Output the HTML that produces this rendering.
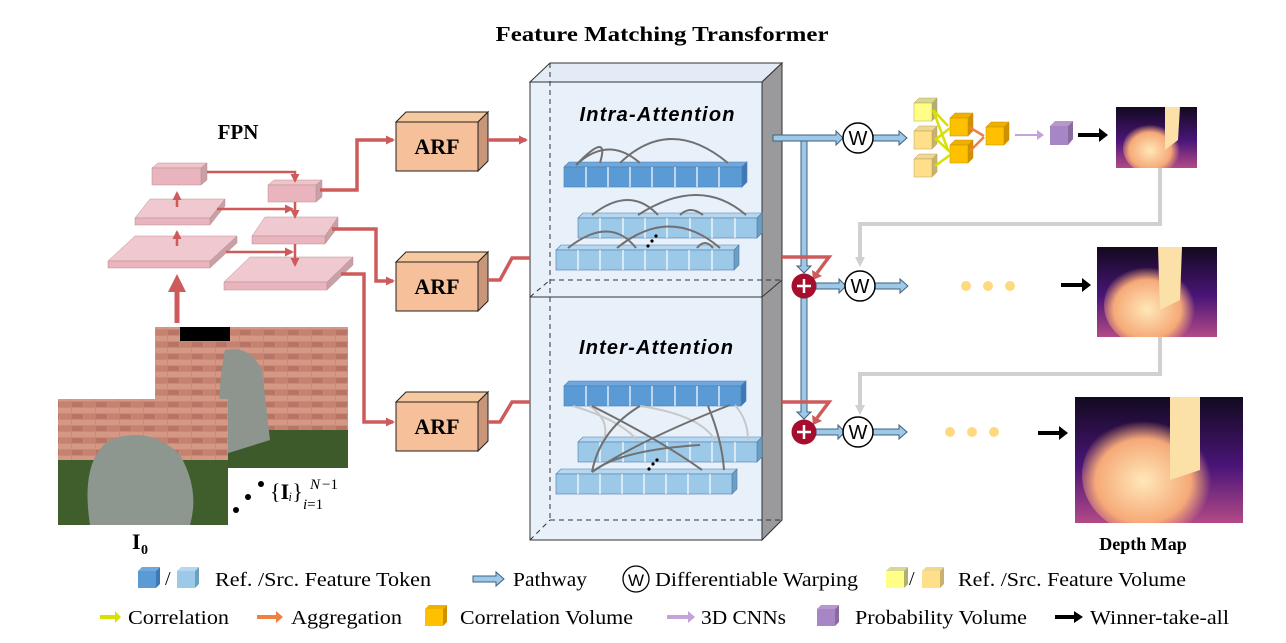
<!DOCTYPE html>
<html><head><meta charset="utf-8"><style>
html,body{margin:0;padding:0;background:#fff;}
svg{display:block;font-family:"Liberation Serif",serif;}
</style></head><body>
<svg width="1286" height="643" viewBox="0 0 1286 643" xmlns="http://www.w3.org/2000/svg">
<defs>
<marker id="ar" markerWidth="9" markerHeight="9" refX="7" refY="4.5" orient="auto" markerUnits="userSpaceOnUse"><path d="M0,0 L9,4.5 L0,9z" fill="#cd5b5b"/></marker>
<marker id="ag" markerWidth="10" markerHeight="10" refX="5" refY="5" orient="auto" markerUnits="userSpaceOnUse"><path d="M0,0 L10,5 L0,10z" fill="#d0d0d0"/></marker>
<linearGradient id="dm" x1="0" y1="0" x2="0" y2="1"><stop offset="0" stop-color="#12091f"/><stop offset="0.55" stop-color="#4a1578"/><stop offset="1" stop-color="#b24a86"/></linearGradient>
<radialGradient id="dmf" cx="0.45" cy="0.55" r="0.5"><stop offset="0" stop-color="#ffe8b8"/><stop offset="0.7" stop-color="#f6a978"/><stop offset="1" stop-color="#f6a978" stop-opacity="0"/></radialGradient>
<pattern id="brick" width="24" height="12" patternUnits="userSpaceOnUse"><rect width="24" height="12" fill="#c98b78"/><rect x="0" y="0" width="23" height="5" fill="#d49885"/><rect x="-12" y="6" width="23" height="5" fill="#b87565"/><rect x="12" y="6" width="23" height="5" fill="#c58270"/></pattern>
<clipPath id="c1"><rect x="1116" y="107" width="81" height="61"/></clipPath>
<clipPath id="c2"><rect x="1097" y="247" width="120" height="90"/></clipPath>
<clipPath id="c3"><rect x="1075" y="397" width="168" height="126"/></clipPath>
</defs>

<text x="662" y="41" text-anchor="middle" font-weight="bold" font-size="21" textLength="333" lengthAdjust="spacingAndGlyphs">Feature Matching Transformer</text>

<rect x="530" y="82" width="232" height="458" fill="#e8f0fa"/>
<polygon points="530,82 550,63 782,63 762,82" fill="#e2ebf6" stroke="#333" stroke-width="1"/>
<polygon points="762,82 782,63 782,520 762,540" fill="#9a9a9c" stroke="#333" stroke-width="1"/>
<rect x="530" y="82" width="232" height="458" fill="none" stroke="#333" stroke-width="1"/>
<line x1="530" y1="297" x2="762" y2="297" stroke="#333"/>
<line x1="762" y1="297" x2="782" y2="280" stroke="#333"/>
<g stroke="#333" stroke-dasharray="5,4" fill="none">
<line x1="550" y1="63" x2="550" y2="520"/>
<line x1="550" y1="280" x2="782" y2="280"/>
<line x1="530" y1="297" x2="550" y2="280"/>
<line x1="550" y1="520" x2="782" y2="520"/>
<line x1="530" y1="540" x2="550" y2="520"/>
</g>
<text x="657" y="121" text-anchor="middle" font-family="Liberation Sans,sans-serif" font-style="italic" font-weight="bold" font-size="20" textLength="155">Intra-Attention</text>
<text x="656" y="354" text-anchor="middle" font-family="Liberation Sans,sans-serif" font-style="italic" font-weight="bold" font-size="20" textLength="154">Inter-Attention</text>

<g stroke="#4a7cb0" stroke-width="0.6">
<g fill="#5b9bd5">
<polygon points="564,167 569,162 747,162 742,167" fill="#6fa8dc"/>
<polygon points="742,167 747,162 747,182 742,187" fill="#3f79b5"/>
<rect x="564" y="167" width="178" height="20"/>
</g>
<g fill="#9dc9e8">
<polygon points="578,218 583,213 762,213 757,218" fill="#b5d8f0"/>
<polygon points="757,218 762,213 762,233 757,238" fill="#6d9fc3"/>
<rect x="578" y="218" width="179" height="20"/>
<polygon points="556,250 561,245 739,245 734,250" fill="#b5d8f0"/>
<polygon points="734,250 739,245 739,265 734,270" fill="#6d9fc3"/>
<rect x="556" y="250" width="178" height="20"/>
</g>
<g fill="#5b9bd5">
<polygon points="564,386 569,381 746,381 741,386" fill="#6fa8dc"/>
<polygon points="741,386 746,381 746,401 741,406" fill="#3f79b5"/>
<rect x="564" y="386" width="177" height="20"/>
</g>
<g fill="#9dc9e8">
<polygon points="578,442 583,437 762,437 757,442" fill="#b5d8f0"/>
<polygon points="757,442 762,437 762,457 757,462" fill="#6d9fc3"/>
<rect x="578" y="442" width="179" height="20"/>
<polygon points="556,474 561,469 737,469 732,474" fill="#b5d8f0"/>
<polygon points="732,474 737,469 737,489 732,494" fill="#6d9fc3"/>
<rect x="556" y="474" width="176" height="20"/>
</g>
</g>
<g stroke="#fff" stroke-width="1.5" opacity="0.8">
<line x1="586" y1="167" x2="586" y2="187"/><line x1="608" y1="167" x2="608" y2="187"/><line x1="630" y1="167" x2="630" y2="187"/><line x1="652" y1="167" x2="652" y2="187"/><line x1="675" y1="167" x2="675" y2="187"/><line x1="697" y1="167" x2="697" y2="187"/><line x1="719" y1="167" x2="719" y2="187"/>
<line x1="600" y1="218" x2="600" y2="238"/><line x1="623" y1="218" x2="623" y2="238"/><line x1="645" y1="218" x2="645" y2="238"/><line x1="667" y1="218" x2="667" y2="238"/><line x1="690" y1="218" x2="690" y2="238"/><line x1="712" y1="218" x2="712" y2="238"/><line x1="735" y1="218" x2="735" y2="238"/>
<line x1="578" y1="250" x2="578" y2="270"/><line x1="600" y1="250" x2="600" y2="270"/><line x1="623" y1="250" x2="623" y2="270"/><line x1="645" y1="250" x2="645" y2="270"/><line x1="667" y1="250" x2="667" y2="270"/><line x1="689" y1="250" x2="689" y2="270"/><line x1="712" y1="250" x2="712" y2="270"/>
<line x1="586" y1="386" x2="586" y2="406"/><line x1="608" y1="386" x2="608" y2="406"/><line x1="630" y1="386" x2="630" y2="406"/><line x1="652" y1="386" x2="652" y2="406"/><line x1="675" y1="386" x2="675" y2="406"/><line x1="697" y1="386" x2="697" y2="406"/><line x1="719" y1="386" x2="719" y2="406"/>
<line x1="600" y1="442" x2="600" y2="462"/><line x1="623" y1="442" x2="623" y2="462"/><line x1="645" y1="442" x2="645" y2="462"/><line x1="667" y1="442" x2="667" y2="462"/><line x1="690" y1="442" x2="690" y2="462"/><line x1="712" y1="442" x2="712" y2="462"/><line x1="735" y1="442" x2="735" y2="462"/>
<line x1="578" y1="474" x2="578" y2="494"/><line x1="600" y1="474" x2="600" y2="494"/><line x1="622" y1="474" x2="622" y2="494"/><line x1="644" y1="474" x2="644" y2="494"/><line x1="666" y1="474" x2="666" y2="494"/><line x1="688" y1="474" x2="688" y2="494"/><line x1="710" y1="474" x2="710" y2="494"/>
</g>
<g fill="none" stroke="#707070" stroke-width="2">
<path d="M576,165 Q610,130 600,163"/>
<path d="M576,165 Q608,135 640,163"/>
<path d="M620,163 Q670,115 728,163"/>
<path d="M592,215 Q630,185 658,215"/>
<path d="M638,215 Q700,175 746,215"/>
<path d="M680,215 Q690,205 703,215"/>
<path d="M568,248 Q610,215 636,248"/>
<path d="M617,248 Q670,205 720,248"/>
<path d="M697,248 Q705,238 713,248"/>
</g>
<g fill="none" stroke="#c8c8c8" stroke-width="2">
<path d="M573,406 Q620,420 637,440"/>
<path d="M640,406 Q700,415 715,440"/>
<path d="M735,405 Q748,420 748,440"/>
<path d="M590,406 Q610,420 604,440"/>
</g>
<g fill="none" stroke="#707070" stroke-width="2">
<path d="M640,406 Q600,430 592,472"/>
<path d="M592,472 Q640,440 730,405"/>
<path d="M592,472 Q620,450 700,445"/>
<path d="M592,406 Q660,440 702,470"/>
<path d="M708,406 Q722,440 724,470"/>
</g>
<g fill="#000"><circle cx="648" cy="246" r="1.6"/><circle cx="652" cy="241" r="1.6"/><circle cx="656" cy="236" r="1.6"/>
<circle cx="649" cy="469" r="1.6"/><circle cx="653" cy="464" r="1.6"/><circle cx="657" cy="460" r="1.6"/></g>

<g fill="#9dc9e8" stroke="#40607c" stroke-width="1">
<path d="M773,135 L836,135 L836,131 L843,138 L836,145 L836,141 L773,141z"/>
<path d="M801,141 L807,141 L807,266 L811,266 L804,273 L797,266 L801,266z"/>
<path d="M801,298 L807,298 L807,412 L811,412 L804,419 L797,412 L801,412z"/>
<path d="M873,135 L899,135 L899,131 L907,138 L899,145 L899,141 L873,141z"/>
<path d="M816,283 L839,283 L839,279 L846,286 L839,293 L839,289 L816,289z"/>
<path d="M874,283 L900,283 L900,279 L908,286 L900,293 L900,289 L874,289z"/>
<path d="M816,429 L838,429 L838,425 L845,432 L838,439 L838,435 L816,435z"/>
<path d="M873,429 L899,429 L899,425 L907,432 L899,439 L899,435 L873,435z"/>
</g>
<g fill="none" stroke="#cd5b5b" stroke-width="3.5">
<polyline points="782,257 829,257 817,273"/>
<polyline points="782,402 829,402 817,418"/>
</g>
<path d="M812,270 L822,276 L813,280z" fill="#cd5b5b"/>
<path d="M812,415 L822,421 L813,425z" fill="#cd5b5b"/>
<circle cx="804" cy="286" r="12.5" fill="#a50f2d"/>
<circle cx="804" cy="432" r="12.5" fill="#a50f2d"/>
<g stroke="#fff" stroke-width="2.5"><line x1="797" y1="286" x2="811" y2="286"/><line x1="804" y1="279" x2="804" y2="293"/><line x1="797" y1="432" x2="811" y2="432"/><line x1="804" y1="425" x2="804" y2="439"/></g>
<g fill="#fff" stroke="#000" stroke-width="1.5">
<circle cx="858" cy="138" r="15"/><circle cx="860" cy="286" r="15"/><circle cx="858" cy="432" r="15"/>
</g>
<g font-family="Liberation Sans,sans-serif" font-size="20" text-anchor="middle">
<text x="858" y="145">W</text><text x="860" y="293">W</text><text x="858" y="439">W</text>
</g>

<g stroke-width="0.5" stroke="#b8a060">
<polygon points="914,103 919,98 937,98 932,103" fill="#d8d890"/><polygon points="932,103 937,98 937,116 932,121" fill="#b0b070"/><rect x="914" y="103" width="18" height="18" fill="#ffff88"/>
<polygon points="914,131 919,126 937,126 932,131" fill="#f0d890"/><polygon points="932,131 937,126 937,144 932,149" fill="#c8b070"/><rect x="914" y="131" width="18" height="18" fill="#ffdf8a"/>
<polygon points="914,159 919,154 937,154 932,159" fill="#f0d890"/><polygon points="932,159 937,154 937,172 932,177" fill="#c8b070"/><rect x="914" y="159" width="18" height="18" fill="#ffdf8a"/>
<g stroke="#c09000">
<polygon points="950,118 955,113 973,113 968,118" fill="#f0b000"/><polygon points="968,118 973,113 973,131 968,136" fill="#d09000"/><rect x="950" y="118" width="18" height="18" fill="#ffc000"/>
<polygon points="950,145 955,140 973,140 968,145" fill="#f0b000"/><polygon points="968,145 973,140 973,158 968,163" fill="#d09000"/><rect x="950" y="145" width="18" height="18" fill="#ffc000"/>
<polygon points="986,127 991,122 1009,122 1004,127" fill="#f0b000"/><polygon points="1004,127 1009,122 1009,140 1004,145" fill="#d09000"/><rect x="986" y="127" width="18" height="18" fill="#ffc000"/>
</g>
</g>
<g stroke="#d8e000" stroke-width="2.5" fill="none">
<line x1="933" y1="110" x2="948" y2="126"/><line x1="933" y1="110" x2="948" y2="150"/><line x1="950" y1="128" x2="935" y2="140"/><line x1="950" y1="152" x2="935" y2="138"/><line x1="950" y1="155" x2="935" y2="166"/>
</g>
<g stroke="#f08040" stroke-width="2.5"><line x1="969" y1="127" x2="984" y2="136"/><line x1="969" y1="152" x2="984" y2="137"/></g>
<path d="M1015,134 L1037,134 L1037,130 L1044,135 L1037,140 L1037,136 L1015,136z" fill="#c3a3d8"/>
<polygon points="1050,126 1055,121 1073,121 1068,126" fill="#b898cc"/><polygon points="1068,126 1073,121 1073,139 1068,145" fill="#8a6aa0"/><rect x="1050" y="126" width="18" height="19" fill="#a686c4"/>
<g fill="#000">
<path d="M1078,133 L1099,133 L1099,128 L1108,135 L1099,142 L1099,137 L1078,137z"/>
<path d="M1061,283 L1082,283 L1082,278 L1091,285 L1082,292 L1082,287 L1061,287z"/>
<path d="M1038,431 L1059,431 L1059,426 L1068,433 L1059,440 L1059,435 L1038,435z"/>
</g>
<g fill="#ffd980"><circle cx="966" cy="286" r="5"/><circle cx="988" cy="286" r="5"/><circle cx="1010" cy="286" r="5"/>
<circle cx="950" cy="432" r="5"/><circle cx="972" cy="432" r="5"/><circle cx="994" cy="432" r="5"/></g>

<g clip-path="url(#c1)"><rect x="1116" y="107" width="81" height="61" fill="url(#dm)"/>
<ellipse cx="1153" cy="148" rx="30" ry="26" fill="url(#dmf)"/><path d="M1165,107 L1180,107 L1178,140 L1165,150z" fill="#fbe0a8"/></g>
<g clip-path="url(#c2)"><rect x="1097" y="247" width="120" height="90" fill="url(#dm)"/>
<ellipse cx="1152" cy="305" rx="48" ry="42" fill="url(#dmf)"/><path d="M1158,247 L1182,247 L1180,300 L1160,310z" fill="#fbe0a8"/></g>
<g clip-path="url(#c3)"><rect x="1075" y="397" width="168" height="126" fill="url(#dm)"/>
<ellipse cx="1150" cy="475" rx="68" ry="60" fill="url(#dmf)"/><path d="M1170,397 L1200,397 L1200,470 L1170,480z" fill="#fbe0a8"/></g>
<g fill="none" stroke="#d0d0d0" stroke-width="4">
<polyline points="1160,168 1160,224 860,224 860,262" marker-end="url(#ag)"/>
<polyline points="1160,337 1160,374 860,374 860,410" marker-end="url(#ag)"/>
</g>
<text x="1143" y="550" text-anchor="middle" font-weight="bold" font-size="18">Depth Map</text>

<g stroke="#222" stroke-width="1">
<polygon points="396,122 406,112 488,112 478,122" fill="#f6c9a0"/><polygon points="478,122 488,112 488,161 478,171" fill="#c8977a"/><rect x="396" y="122" width="82" height="49" fill="#f6c09a"/>
<polygon points="396,262 406,252 488,252 478,262" fill="#f6c9a0"/><polygon points="478,262 488,252 488,301 478,311" fill="#c8977a"/><rect x="396" y="262" width="82" height="49" fill="#f6c09a"/>
<polygon points="396,402 406,392 488,392 478,402" fill="#f6c9a0"/><polygon points="478,402 488,392 488,441 478,451" fill="#c8977a"/><rect x="396" y="402" width="82" height="49" fill="#f6c09a"/>
</g>
<g font-weight="bold" font-size="22" text-anchor="middle"><text x="437" y="154">ARF</text><text x="437" y="294">ARF</text><text x="437" y="434">ARF</text></g>

<text x="238" y="139" text-anchor="middle" font-weight="bold" font-size="21">FPN</text>
<g stroke="#b89090" stroke-width="0.5">
<polygon points="152,168 158,163 207,163 201,168" fill="#eec5cb"/><polygon points="201,168 207,163 207,180 201,185" fill="#c9a0a5"/><rect x="152" y="168" width="49" height="17" fill="#e9b4bd"/>
<polygon points="135,218 150,199 225,199 210,218" fill="#f0c8cf"/><polygon points="210,218 225,199 225,206 210,225" fill="#c9a0a5"/><rect x="135" y="218" width="75" height="7" fill="#e9b4bd"/>
<polygon points="108,261 135,236 237,236 210,261" fill="#f0c8cf"/><polygon points="210,261 237,236 237,243 210,268" fill="#c9a0a5"/><rect x="108" y="261" width="102" height="7" fill="#e9b4bd"/>
<polygon points="268,185 274,180 322,180 316,185" fill="#eec5cb"/><polygon points="316,185 322,180 322,197 316,202" fill="#c9a0a5"/><rect x="268" y="185" width="48" height="17" fill="#e9b4bd"/>
<polygon points="252,236 265,217 338,217 325,236" fill="#f0c8cf"/><polygon points="325,236 338,217 338,227 325,244" fill="#c9a0a5"/><rect x="252" y="236" width="73" height="8" fill="#e9b4bd"/>
<polygon points="224,282 250,257 353,257 327,282" fill="#f0c8cf"/><polygon points="327,282 353,257 353,265 327,290" fill="#c9a0a5"/><rect x="224" y="282" width="103" height="8" fill="#e9b4bd"/>
</g>
<g fill="none" stroke="#cd5b5b" stroke-width="2.5">
<line x1="177" y1="207" x2="177" y2="193" marker-end="url(#ar)"/>
<line x1="177" y1="246" x2="177" y2="232" marker-end="url(#ar)"/>
<polyline points="207,172 295,172 295,181" marker-end="url(#ar)"/>
<line x1="217" y1="209" x2="292" y2="209" marker-end="url(#ar)"/>
<line x1="226" y1="252" x2="292" y2="252" marker-end="url(#ar)"/>
<line x1="295" y1="202" x2="295" y2="217" marker-end="url(#ar)"/>
<line x1="295" y1="244" x2="295" y2="265" marker-end="url(#ar)"/>
</g>
<g fill="none" stroke="#cd5b5b" stroke-width="3.5">
<polyline points="320,190 357,190 357,140 393,140" marker-end="url(#ar)"/>
<polyline points="332,229 376,229 376,281 393,281" marker-end="url(#ar)"/>
<polyline points="341,274 364,274 364,422 393,422" marker-end="url(#ar)"/>
<polyline points="488,140 526,140" marker-end="url(#ar)"/>
<polyline points="488,280 500,280 512,258 530,258"/>
<polyline points="488,422 500,422 512,402 530,402"/>
<line x1="177" y1="323" x2="177" y2="290" stroke-width="5"/>
</g>
<polygon points="168,292 186,292 177,274" fill="#cd5b5b"/>

<rect x="155" y="327" width="193" height="141" fill="url(#brick)"/>
<rect x="155" y="430" width="193" height="38" fill="#3d5a2a"/>
<path d="M225,350 Q250,345 262,370 L270,440 L222,455 Q215,400 225,350z" fill="#8d958e"/>
<rect x="180" y="327" width="50" height="14" fill="#000"/>
<rect x="58" y="399" width="170" height="126" fill="url(#brick)"/>
<rect x="58" y="460" width="170" height="65" fill="#3f5e2c"/>
<path d="M90,525 Q80,460 110,440 Q150,425 180,455 Q200,490 190,525z" fill="#8e9690"/>
<g fill="#000"><circle cx="236" cy="510" r="3"/><circle cx="248" cy="497" r="3"/><circle cx="261" cy="484" r="3"/></g>
<text x="270" y="499" font-size="22">{<tspan font-weight="bold">I</tspan><tspan font-style="italic" font-size="20">ᵢ</tspan>}</text>
<text x="310" y="489" font-size="15" font-style="italic">N</text><text x="322" y="489" font-size="15">−1</text>
<text x="303" y="509" font-size="15"><tspan font-style="italic">i</tspan>=1</text>
<text x="132" y="549" font-weight="bold" font-size="22">I</text><text x="141" y="554" font-weight="bold" font-size="14">0</text>

<g font-size="20">
<polygon points="138,571 142,567 160,567 156,571" fill="#6fa8dc"/><polygon points="156,571 160,567 160,584 156,588" fill="#3f79b5"/><rect x="138" y="571" width="18" height="17" fill="#5b9bd5"/>
<text x="165" y="585">/</text>
<polygon points="177,571 181,567 199,567 195,571" fill="#b5d8f0"/><polygon points="195,571 199,567 199,584 195,588" fill="#6d9fc3"/><rect x="177" y="571" width="18" height="17" fill="#9dc9e8"/>
<text x="215" y="586" textLength="216" lengthAdjust="spacingAndGlyphs">Ref. /Src. Feature Token</text>
<path d="M473,576 L496,576 L496,572 L504,579 L496,586 L496,582 L473,582z" fill="#9dc9e8" stroke="#40607c"/>
<text x="513" y="586" textLength="74" lengthAdjust="spacingAndGlyphs">Pathway</text>
<circle cx="636" cy="579" r="13" fill="#fff" stroke="#000" stroke-width="1.3"/>
<text x="636" y="586" text-anchor="middle" font-family="Liberation Sans,sans-serif" font-size="17">W</text>
<text x="655" y="586" textLength="203" lengthAdjust="spacingAndGlyphs">Differentiable Warping</text>
<polygon points="886,571 890,567 908,567 904,571" fill="#d8d890"/><polygon points="904,571 908,567 908,584 904,588" fill="#b0b070"/><rect x="886" y="571" width="18" height="17" fill="#ffff88"/>
<text x="909" y="585">/</text>
<polygon points="922,571 926,567 944,567 940,571" fill="#f0d890"/><polygon points="940,571 944,567 944,584 940,588" fill="#c8b070"/><rect x="922" y="571" width="18" height="17" fill="#ffdf8a"/>
<text x="958" y="586" textLength="228" lengthAdjust="spacingAndGlyphs">Ref. /Src. Feature Volume</text>

<path d="M100,615 L115,615 L115,611 L121,617 L115,623 L115,619 L100,619z" fill="#d8e000"/>
<text x="128" y="624" textLength="101" lengthAdjust="spacingAndGlyphs">Correlation</text>
<path d="M257,615 L276,615 L276,611 L283,617 L276,623 L276,619 L257,619z" fill="#f08040"/>
<text x="291" y="624" textLength="111" lengthAdjust="spacingAndGlyphs">Aggregation</text>
<polygon points="425,609 429,605 447,605 443,609" fill="#f0b000"/><polygon points="443,609 447,605 447,622 443,626" fill="#d09000"/><rect x="425" y="609" width="18" height="17" fill="#ffc000"/>
<text x="460" y="624" textLength="173" lengthAdjust="spacingAndGlyphs">Correlation Volume</text>
<path d="M667,615 L688,615 L688,611 L695,617 L688,623 L688,619 L667,619z" fill="#c3a3d8"/>
<text x="701" y="624" textLength="85" lengthAdjust="spacingAndGlyphs">3D CNNs</text>
<polygon points="817,609 821,605 839,605 835,609" fill="#b898cc"/><polygon points="835,609 839,605 839,622 835,626" fill="#8a6aa0"/><rect x="817" y="609" width="18" height="17" fill="#a686c4"/>
<text x="855" y="624" textLength="172" lengthAdjust="spacingAndGlyphs">Probability Volume</text>
<path d="M1055,615 L1074,615 L1074,611 L1083,617 L1074,623 L1074,619 L1055,619z" fill="#000"/>
<text x="1090" y="624" textLength="139" lengthAdjust="spacingAndGlyphs">Winner-take-all</text>
</g>
</svg>
</body></html>
